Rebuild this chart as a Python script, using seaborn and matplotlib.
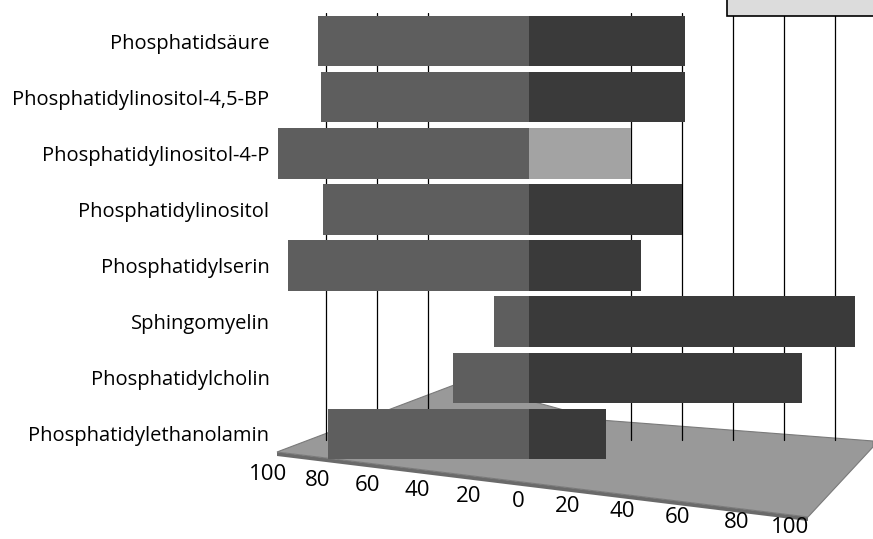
import pandas as pd
import matplotlib.pyplot as plt
import matplotlib.transforms as mtransforms
import seaborn as sns
from matplotlib.patches import Polygon, Rectangle

# phospholipids, top row first
lipids = ['Phosphatidsäure', 'Phosphatidylinositol-4,5-BP', 'Phosphatidylinositol-4-P',
          'Phosphatidylinositol', 'Phosphatidylserin', 'Sphingomyelin',
          'Phosphatidylcholin', 'Phosphatidylethanolamin']
# share on the left side and on the right side
left_share = [83, 82, 99, 81, 95, 14, 30, 79]
right_share = [61, 61, 40, 60, 44, 128, 107, 30]
tick_values = [-100, -80, -60, -40, -20, 0, 20, 40, 60, 80, 100]

df = pd.DataFrame({'Lipid': lipids, 'Left': [-v for v in left_share], 'Right': right_share})

sns.set_theme(style='white')
plt.rcParams['font.family'] = ['Open Sans', 'DejaVu Sans']

fig = plt.figure(figsize=(8.73, 5.39), dpi=100)
ax = fig.add_axes([275 / 873, 77 / 539, 585 / 873, 449 / 539])

# floor under the bars (in figure pixels, y from the top)
def fig_xy(px, py):
    return (px / 873, 1 - py / 539)

floor_edge = Polygon([fig_xy(277, 452), fig_xy(808, 517), fig_xy(808, 521), fig_xy(277, 456)],
                     closed=True, transform=fig.transFigure, facecolor='#6a6a6a', lw=0, zorder=0)
floor = Polygon([fig_xy(277, 452), fig_xy(462, 382), fig_xy(600, 420), fig_xy(873, 441),
                 fig_xy(873, 447), fig_xy(808, 517)],
                closed=True, transform=fig.transFigure, facecolor='#999999', edgecolor='#7a7a7a',
                lw=0.8, zorder=0)
fig.add_artist(floor_edge)
fig.add_artist(floor)

ax.set_facecolor('none')
for x in [-80, -60, -40, 40, 60, 80, 100, 120]:
    ax.axvline(x, ymin=0.05, color='black', lw=0.9, zorder=0)

sns.barplot(data=df, x='Left', y='Lipid', orient='h', color='#5e5e5e', saturation=1,
            width=0.9, linewidth=0, ax=ax, zorder=2)
right_colors = {l: '#3a3a3a' for l in lipids}
right_colors['Phosphatidylinositol-4-P'] = '#a3a3a3'
sns.barplot(data=df, x='Right', y='Lipid', orient='h', hue='Lipid', palette=right_colors,
            saturation=1, width=0.9, linewidth=0, legend=False, ax=ax, zorder=2)

ax.set_xlim(-100, 130)
ax.set_xticks(tick_values)
ax.set_xticklabels([str(abs(v)) for v in tick_values], fontsize=16)
ax.tick_params(axis='y', labelsize=14.5, length=0, pad=4, labelcolor='black')
ax.tick_params(axis='x', length=0, pad=10, labelcolor='black')
# the tick labels run down the slanted front edge of the floor
label_dx = [-7, -8, -9, -10, -10, -11, -13, -9, -4, 4, 6]
for v, dx, lab in zip(tick_values, label_dx, ax.get_xticklabels()):
    dy = (15 + 0.265 * v) / 100
    lab.set_transform(lab.get_transform() + mtransforms.ScaledTranslation(dx / 100, -dy, fig.dpi_scale_trans))
ax.set_xlabel('')
ax.set_ylabel('')
sns.despine(ax=ax, left=True, bottom=True)

# legend box peeking in at the top right corner
fig.add_artist(Rectangle((727 / 873, 1 - 16 / 539), 160 / 873, 30 / 539, transform=fig.transFigure,
                         facecolor='#dcdcdc', edgecolor='black', lw=1.2))

fig.savefig('out.png', dpi=100)
